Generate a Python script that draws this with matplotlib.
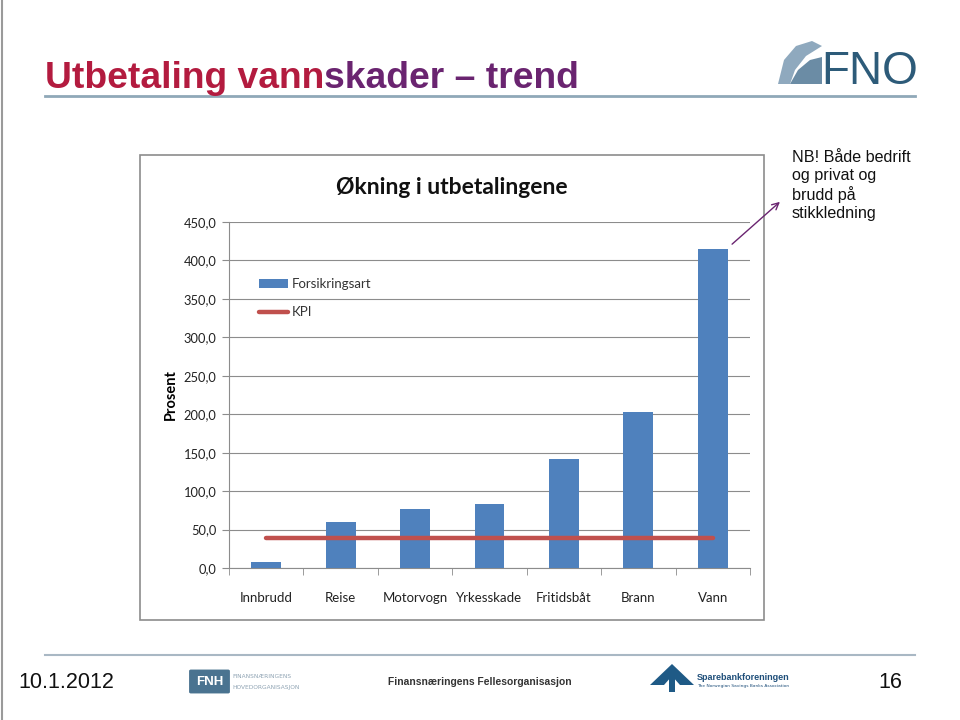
import matplotlib
matplotlib.use("Agg")
import matplotlib.pyplot as plt
import numpy as np
from matplotlib.patches import Rectangle, Polygon, FancyBboxPatch, FancyArrowPatch
from matplotlib.lines import Line2D

categories = ["Innbrudd", "Reise", "Motorvogn", "Yrkesskade", "Fritidsbåt", "Brann", "Vann"]
values = [7.8, 60.0, 76.5, 83.5, 142.0, 203.0, 415.0]
kpi_value = 39.0
yticks = [0, 50, 100, 150, 200, 250, 300, 350, 400, 450]
ytick_labels = ["0,0", "50,0", "100,0", "150,0", "200,0", "250,0", "300,0", "350,0", "400,0", "450,0"]

W, H = 960, 720
fig = plt.figure(figsize=(9.6, 7.2), dpi=100)
fig.patch.set_facecolor("white")

def fx(px):
    return px / W

def fy(py):
    return 1 - py / H

# slide edge
fig.add_artist(Line2D([fx(1.5), fx(1.5)], [0, 1], color="#9a9a9a", lw=1.5))

# Slide title (two colours)
t1 = fig.text(fx(45), fy(88), "Utbetaling vann", fontsize=26.8, fontweight="bold",
              family="Liberation Sans", color="#B31B3F", va="baseline", ha="left")
fig.canvas.draw()
bb = t1.get_window_extent(renderer=fig.canvas.get_renderer())
fig.text(bb.x1 / fig.bbox.width, fy(88), "skader – trend", fontsize=26.8, fontweight="bold",
         family="Liberation Sans", color="#6A2470", va="baseline", ha="left")

# Title underline and footer line
fig.add_artist(Line2D([fx(45), fx(915)], [fy(95.5), fy(95.5)], color="#8FA8B8", lw=2))
fig.add_artist(Line2D([fx(45), fx(915)], [fy(655), fy(655)], color="#A9B8C4", lw=1.5))

# FNO logo
fig.text(fx(821), fy(84), "FNO", fontsize=33, family="Liberation Sans", color="#2D5B79",
         va="baseline", ha="left")
swoosh = Polygon([[fx(778), fy(84)], [fx(784), fy(60)], [fx(796), fy(46)], [fx(812), fy(41)],
                  [fx(822), fy(46)], [fx(806), fy(56)], [fx(795), fy(70)], [fx(790), fy(84)]],
                 closed=True, transform=fig.transFigure, facecolor="#8FA9BE", edgecolor="none")
fig.add_artist(swoosh)
swoosh2 = Polygon([[fx(790), fy(84)], [fx(798), fy(70)], [fx(810), fy(60)], [fx(822), fy(57)],
                   [fx(822), fy(84)]],
                  closed=True, transform=fig.transFigure, facecolor="#6B8CA5", edgecolor="none")
fig.add_artist(swoosh2)

# Chart frame
frame = Rectangle((fx(140), fy(620)), fx(764) - fx(140), fy(155) - fy(620),
                  transform=fig.transFigure, facecolor="white", edgecolor="#8c8c8c", lw=1.2,
                  zorder=-5)
fig.add_artist(frame)

ax = fig.add_axes([fx(229), fy(568), fx(750) - fx(229), fy(222) - fy(568)])
ax.set_facecolor("none")
x = np.arange(len(categories))
bars = ax.bar(x, values, width=0.4, color="#4F81BD", label="Forsikringsart", zorder=3)
kpi_line, = ax.plot([x[0], x[-1]], [kpi_value, kpi_value], color="#C0504D", lw=3.2, label="KPI",
                    solid_capstyle="round", zorder=4)
ax.set_xlim(-0.5, len(categories) - 0.5)
ax.set_ylim(0, 450)
ax.set_yticks(yticks)
ax.set_yticklabels(ytick_labels)
ax.set_xticks(x)
ax.set_xticklabels(categories)
ax.set_xticks(np.arange(-0.5, len(categories)), minor=True)
ax.tick_params(axis="x", which="major", length=0, pad=17, labelsize=9.5, labelcolor="#222222")
ax.tick_params(axis="x", which="minor", length=5, color="#8c8c8c", direction="out")
ax.tick_params(axis="y", length=5, color="#8c8c8c", direction="out", labelsize=9.3,
               labelcolor="#222222", pad=4)
for lab in ax.get_xticklabels() + ax.get_yticklabels():
    lab.set_family("Lato")
ax.grid(axis="y", color="#8c8c8c", lw=0.8, zorder=0)
for s in ["top", "right"]:
    ax.spines[s].set_visible(False)
ax.spines["left"].set_color("#8c8c8c")
ax.spines["bottom"].set_color("#8c8c8c")
ax.set_ylabel("Prosent", fontsize=10.5, fontweight="bold", family="Lato", labelpad=4)

leg = ax.legend([bars, kpi_line], ["Forsikringsart", "KPI"], loc="upper left",
                bbox_to_anchor=(0.035, 0.873), frameon=False,
                prop={"family": "Lato", "size": 9.5}, handlelength=2.2, handletextpad=0.3,
                labelspacing=1.25)
for txt in leg.get_texts():
    txt.set_color("#333333")

fig.text(fx(452), fy(187), "Økning i utbetalingene", fontsize=16.5, fontweight="bold",
         family="Lato", ha="center", va="center", color="#111111")

# Annotation
fig.text(fx(792), fy(150), "NB! Både bedrift\nog privat og\nbrudd på\nstikkledning",
         fontsize=11.6, family="Liberation Sans", ha="left", va="top", linespacing=1.25,
         color="#111111")
fig.add_artist(FancyArrowPatch((fx(730), fy(246)), (fx(782), fy(200)),
                               transform=fig.transFigure, arrowstyle="->",
                               mutation_scale=12, color="#6A2470", lw=1))

# Footer
fig.text(fx(18), fy(683), "10.1.2012", fontsize=15.5, family="Liberation Sans", va="center",
         ha="left", color="#111111")
fig.text(fx(902), fy(683), "16", fontsize=15.5, family="Liberation Sans", va="center",
         ha="right", color="#111111")
fig.add_artist(FancyBboxPatch((fx(191), fy(692)), fx(228) - fx(191), fy(671) - fy(692),
                              boxstyle="round,pad=0.002", transform=fig.transFigure,
                              facecolor="#4A7390", edgecolor="none"))
fig.text(fx(209.5), fy(682), "FNH", fontsize=9.5, fontweight="bold", family="Liberation Sans",
         color="white", ha="center", va="center")
fig.text(fx(232), fy(677), "FINANSNÆRINGENS", fontsize=4.2, family="DejaVu Sans",
         color="#8FA3B3", ha="left", va="center")
fig.text(fx(232), fy(687), "HOVEDORGANISASJON", fontsize=4.2, family="DejaVu Sans",
         color="#8FA3B3", ha="left", va="center")
fig.text(fx(388), fy(682), "Finansnæringens Fellesorganisasjon", fontsize=7.4,
         family="Liberation Sans", fontweight="bold", color="#333333", ha="left", va="center")
sb = Polygon([[fx(650), fy(685)], [fx(672), fy(664)], [fx(694), fy(685)], [fx(680), fy(685)],
              [fx(672), fy(676)], [fx(664), fy(685)]], closed=True, transform=fig.transFigure,
             facecolor="#1F5A86", edgecolor="none")
fig.add_artist(sb)
fig.add_artist(Rectangle((fx(669), fy(692)), fx(6), fy(676) - fy(692), transform=fig.transFigure,
                         facecolor="#1F5A86", edgecolor="none"))
fig.text(fx(697), fy(677), "Sparebankforeningen", fontsize=6.5, family="Liberation Sans",
         fontweight="bold", color="#1F4F7A", ha="left", va="center")
fig.text(fx(697), fy(686), "The Norwegian Savings Banks Association", fontsize=3.2,
         family="DejaVu Sans", color="#1F4F7A", ha="left", va="center")

fig.savefig("out.png", dpi=100, facecolor="white")
